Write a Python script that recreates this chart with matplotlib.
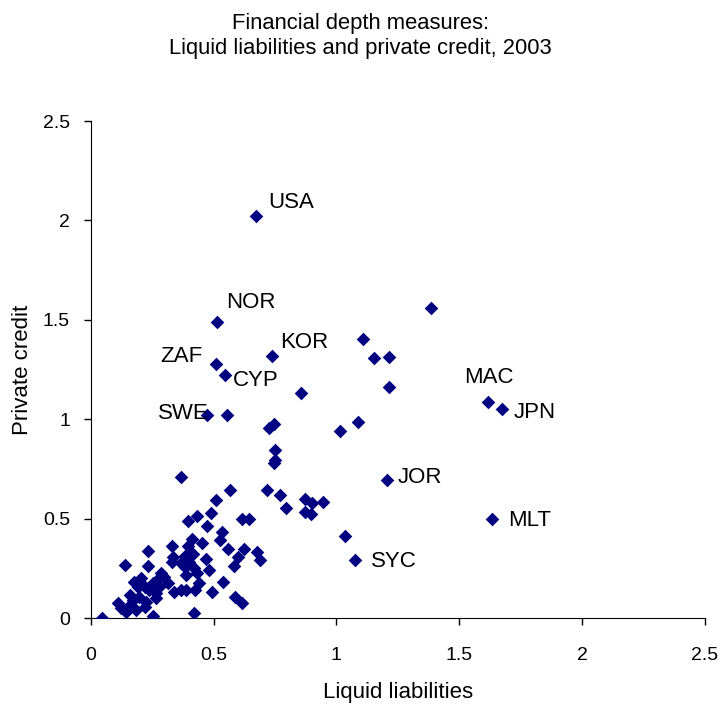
import matplotlib
matplotlib.use("Agg")
import matplotlib.pyplot as plt

plt.rcParams.update({
    "font.family": ["Liberation Sans", "DejaVu Sans"],
    "font.size": 12,
})

# labelled countries
lab_names = ["USA", "NOR", "KOR", "ZAF", "CYP", "SWE", "MAC", "JPN", "JOR", "MLT", "SYC"]
lab_liq = [0.672, 0.514, 0.737, 0.510, 0.547, 0.474, 1.619, 1.676, 1.206, 1.632, 1.077]
lab_cred = [2.020, 1.487, 1.317, 1.276, 1.221, 1.020, 1.085, 1.050, 0.693, 0.497, 0.291]

# remaining countries (unlabelled)
liq = [1.385, 1.109, 1.154, 1.215, 1.215, 0.854, 0.555, 1.089, 1.016, 0.745,
       0.725, 0.749, 0.749, 0.745, 0.772, 0.718, 0.795, 0.873, 0.900, 0.947,
       0.873, 0.898, 1.036, 0.367, 0.566, 0.511, 0.434, 0.394, 0.488, 0.475,
       0.614, 0.644, 0.536, 0.525, 0.560, 0.622, 0.676, 0.691, 0.599, 0.585,
       0.414, 0.455, 0.394, 0.331, 0.235, 0.138, 0.235, 0.333, 0.385, 0.417,
       0.468, 0.331, 0.367, 0.401, 0.385, 0.421, 0.434, 0.387, 0.482, 0.441,
       0.425, 0.387, 0.340, 0.495, 0.538, 0.587, 0.614, 0.421, 0.255, 0.047,
       0.286, 0.300, 0.273, 0.313, 0.252, 0.279, 0.239, 0.219, 0.205, 0.178,
       0.192, 0.158, 0.171, 0.198, 0.225, 0.266, 0.266, 0.111, 0.124, 0.144,
       0.185, 0.219, 0.158, 0.367]
cred = [1.558, 1.402, 1.307, 1.312, 1.161, 1.131, 1.020, 0.985, 0.940, 0.975,
        0.955, 0.844, 0.794, 0.779, 0.618, 0.643, 0.551, 0.601, 0.580, 0.585,
        0.534, 0.523, 0.412, 0.710, 0.643, 0.593, 0.514, 0.490, 0.526, 0.462,
        0.497, 0.497, 0.434, 0.392, 0.345, 0.346, 0.331, 0.293, 0.305, 0.262,
        0.398, 0.376, 0.362, 0.362, 0.338, 0.268, 0.261, 0.308, 0.312, 0.322,
        0.298, 0.283, 0.275, 0.283, 0.255, 0.250, 0.225, 0.216, 0.241, 0.174,
        0.141, 0.141, 0.132, 0.132, 0.179, 0.107, 0.074, 0.024, 0.012, 0.002,
        0.225, 0.208, 0.194, 0.174, 0.174, 0.157, 0.141, 0.157, 0.199, 0.182,
        0.157, 0.116, 0.090, 0.107, 0.082, 0.099, 0.124, 0.074, 0.049, 0.032,
        0.040, 0.057, 0.065, 0.141]

ticks = [0, 0.5, 1, 1.5, 2, 2.5]
tick_labels = ["0", "0.5", "1", "1.5", "2", "2.5"]

# label offsets in pixels from the marker: (dx, dy to text centre, ha)
lab_offsets = {
    "USA": (12, 16, "left"), "NOR": (9, 22, "left"), "KOR": (8, 16, "left"),
    "ZAF": (-14, 10, "right"), "CYP": (8, -3, "left"), "SWE": (2, 4, "right"),
    "MAC": (0, 27, "center"), "JPN": (11, -1, "left"), "JOR": (11, 5, "left"),
    "MLT": (16, 1, "left"), "SYC": (16, 1, "left"),
}
CAP_HALF = 8  # half cap height of 16pt text in px

NAVY = "#000080"

fig = plt.figure(figsize=(7.2, 7.06), dpi=100)
ax = fig.add_axes([0.126, 0.1246, 0.853, 0.704])

ax.scatter(liq + lab_liq, cred + lab_cred, marker="D", s=48, color=NAVY,
           linewidths=0, zorder=3)

for name, x, y in zip(lab_names, lab_liq, lab_cred):
    dx, dy, ha = lab_offsets[name]
    ax.annotate(name, (x, y), xytext=(dx, dy - CAP_HALF), textcoords="offset pixels",
                ha=ha, va="baseline", fontsize=16)

ax.set_xlim(0, 2.5)
ax.set_ylim(0, 2.5)
ax.set_xticks(ticks)
ax.set_yticks(ticks)
ax.set_xticklabels(tick_labels)
ax.set_yticklabels(tick_labels)
ax.tick_params(direction="out", length=5, width=1, labelsize=14)
ax.tick_params(axis="x", pad=16)
ax.tick_params(axis="y", pad=10)
ax.spines["top"].set_visible(False)
ax.spines["right"].set_visible(False)
ax.set_xlabel("Liquid liabilities", fontsize=16)
ax.set_ylabel("Private credit", fontsize=16)
ax.xaxis.set_label_coords(0.5, -0.128)
ax.yaxis.set_label_coords(-0.094, 0.5)

fig.text(0.5, 1 - 29 / 706, "Financial depth measures:", ha="center",
         va="baseline", fontsize=15.8)
fig.text(0.5, 1 - 54 / 706, "Liquid liabilities and private credit, 2003",
         ha="center", va="baseline", fontsize=15.8)

fig.savefig("out.png", dpi=100)
